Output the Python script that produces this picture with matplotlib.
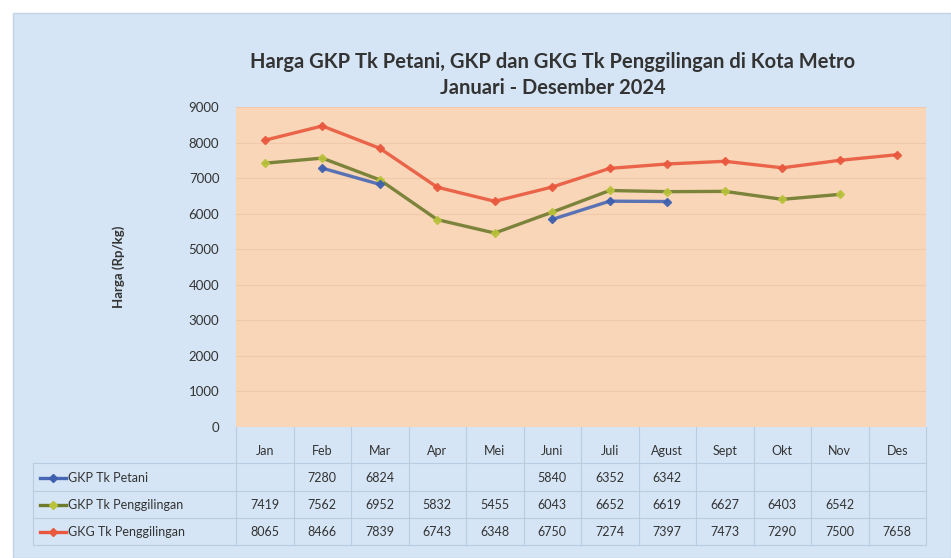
import numpy as np
import matplotlib.pyplot as plt
from matplotlib.patches import Rectangle
from matplotlib.lines import Line2D

months = ["Jan", "Feb", "Mar", "Apr", "Mei", "Juni", "Juli", "Agust", "Sept", "Okt", "Nov", "Des"]
gkp_petani = [None, 7280, 6824, None, None, 5840, 6352, 6342, None, None, None, None]
gkp_penggilingan = [7419, 7562, 6952, 5832, 5455, 6043, 6652, 6619, 6627, 6403, 6542, None]
gkg_penggilingan = [8065, 8466, 7839, 6743, 6348, 6750, 7274, 7397, 7473, 7290, 7500, 7658]
series_names = ["GKP Tk Petani", "GKP Tk Penggilingan", "GKG Tk Penggilingan"]
y_ticks = [0, 1000, 2000, 3000, 4000, 5000, 6000, 7000, 8000, 9000]

bg = "#d5e5f5"
plot_bg = "#fad6b8"
txt = "#333333"
grid_c = "#b9cde2"
line_colors = ["#4767b4", "#6e7a2c", "#e9583e"]
marker_colors = ["#3d5fae", "#b9c23a", "#e9583e"]

plt.rcParams['font.family'] = ['Lato', 'DejaVu Sans']

W, H = 951, 558
fig = plt.figure(figsize=(W / 100, H / 100), dpi=100)
fig.patch.set_facecolor("white")

# outer light blue chart area (drawn under the axes)
fig.add_artist(Rectangle((13 / W, 0), 1 - 13 / W, 1 - 13 / H, transform=fig.transFigure,
                         facecolor=bg, edgecolor="#c4d3e3", lw=1, zorder=-5))

# plot area in pixels
x0, x1, ytop, ybot = 236, 926, 107, 427
ax = fig.add_axes([x0 / W, 1 - ybot / H, (x1 - x0) / W, (ybot - ytop) / H])
ax.set_zorder(2)
ax.set_facecolor(plot_bg)
x = np.arange(len(months))

def to_arr(vals):
    return np.array([np.nan if v is None else v for v in vals], dtype=float)

data = [to_arr(gkp_petani), to_arr(gkp_penggilingan), to_arr(gkg_penggilingan)]
zorders = [4, 3, 2]
for d, lc, mc, z in zip(data, line_colors, marker_colors, zorders):
    ax.plot(x, d, color=lc, lw=2.4, marker="D", ms=4, mfc=mc, mec=mc, zorder=z, alpha=0.9)

ax.set_xlim(-0.5, len(months) - 0.5)
ax.set_ylim(0, 9000)
ax.set_yticks(y_ticks)
ax.yaxis.grid(True, color="#f0c9aa", lw=0.8)
ax.set_axisbelow(True)
ax.tick_params(axis="y", length=0, labelsize=9.5, labelcolor=txt, pad=12)
ax.tick_params(axis="x", length=0, labelbottom=False)
for s in ax.spines.values():
    s.set_visible(False)

ax.set_ylabel("Harga (Rp/kg)", fontsize=9.5, fontweight="bold", color=txt, labelpad=46)

fig.text(553 / W, 1 - 62 / H, "Harga GKP Tk Petani, GKP dan GKG Tk Penggilingan di Kota Metro",
         ha="center", va="center", fontsize=14.5, fontweight="bold", color=txt)
fig.text(553 / W, 1 - 88 / H, "Januari - Desember 2024",
         ha="center", va="center", fontsize=14.5, fontweight="bold", color=txt)

# data table below the plot
def fy(py):
    return 1 - py / H

def fx(px):
    return px / W

col_w = (x1 - x0) / len(months)
header_y = 451
row_ys = [478, 505, 532]
row_lines = [463, 491, 518, 545]

for i, m in enumerate(months):
    cx = x0 + col_w * (i + 0.5)
    fig.text(fx(cx), fy(header_y), m, ha="center", va="center", fontsize=9, color=txt)
    for r, d in enumerate(data):
        v = d[i]
        if not np.isnan(v):
            fig.text(fx(cx), fy(row_ys[r]), f"{int(v)}", ha="center", va="center",
                     fontsize=9, color=txt)

# grid lines of the table
for ly in row_lines:
    fig.add_artist(Line2D([fx(33), fx(x1)], [fy(ly), fy(ly)], color=grid_c, lw=0.8))
for i in range(len(months) + 1):
    lx = x0 + col_w * i
    fig.add_artist(Line2D([fx(lx), fx(lx)], [fy(ybot), fy(545)], color=grid_c, lw=0.8))
fig.add_artist(Line2D([fx(33), fx(33)], [fy(463), fy(545)], color=grid_c, lw=0.8))

# legend keys + series names
for r, (name, lc, mc) in enumerate(zip(series_names, line_colors, marker_colors)):
    yy = fy(row_ys[r])
    fig.add_artist(Line2D([fx(40), fx(66)], [yy, yy], color=lc, lw=2.4))
    fig.add_artist(Line2D([fx(53)], [yy], color=mc, marker="D", ms=4, lw=0))
    fig.text(fx(68), yy, name, ha="left", va="center", fontsize=9, color=txt)

fig.savefig("out.png", dpi=100)
